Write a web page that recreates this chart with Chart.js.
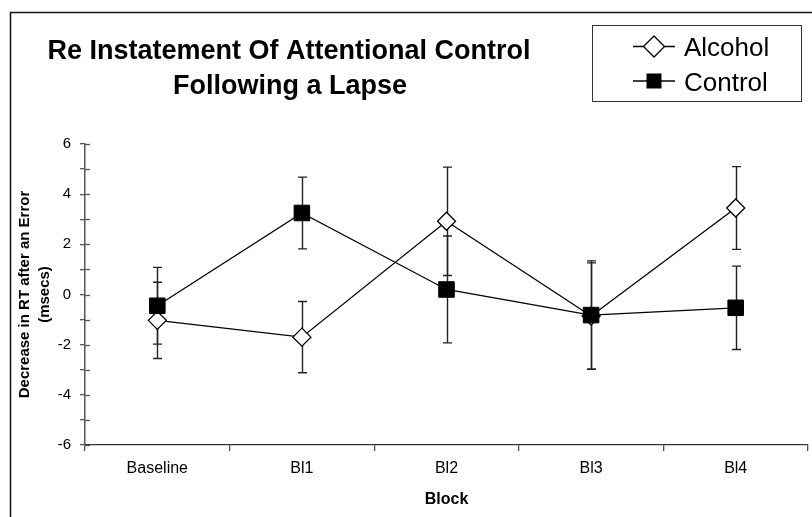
<!DOCTYPE html>
<html>
<head>
<meta charset="utf-8">
<script src="https://cdn.jsdelivr.net/npm/chart.js@4.4.1/dist/chart.umd.min.js"></script>
<style>
    body { margin: 0; background: #fff; }
    canvas { display: block; }
</style>
</head>
<body>
<canvas id="myChart" width="812" height="517"></canvas>
<script>
const FONT = "'Liberation Sans', Arial, sans-serif";

const blocks = ["Baseline", "Bl1", "Bl2", "Bl3", "Bl4"];
const alcohol = [-1.03, -1.7, 2.92, -0.86, 3.45];
const alcoholErr = [1.52, 1.42, 2.16, 2.12, 1.65];
const control = [-0.45, 3.25, 0.2, -0.82, -0.53];
const controlErr = [1.53, 1.43, 2.13, 2.16, 1.66];
const titleLines = ["Re Instatement Of Attentional Control", "Following a Lapse"];
const yTitle = ["Decrease in RT after an Error", "(msecs)"];

// frame + title + legend
const decorPlugin = {
    id: "decor",
    beforeDraw(chart) {
        let ctx = chart.ctx;
        ctx.save();
        ctx.fillStyle = "#fff";
        ctx.fillRect(0, 0, chart.width, chart.height);
        ctx.strokeStyle = "#111";
        ctx.lineWidth = 1.5;
        ctx.beginPath();
        ctx.moveTo(10.5, chart.height);
        ctx.lineTo(10.5, 12.5);
        ctx.lineTo(chart.width, 12.5);
        ctx.stroke();
        ctx.restore();
    },
    afterDraw(chart) {
        let ctx = chart.ctx;
        ctx.save();
        // title
        ctx.fillStyle = "#000";
        ctx.font = "bold 27px " + FONT;
        ctx.textAlign = "center";
        ctx.textBaseline = "alphabetic";
        ctx.fillText(titleLines[0], 289, 59);
        ctx.fillText(titleLines[1], 290, 94);

        // legend box
        ctx.strokeStyle = "#333";
        ctx.lineWidth = 1;
        ctx.strokeRect(592.5, 25.5, 209, 76);

        let rows = [
            { text: "Alcohol", y: 46.5, style: "diamond" },
            { text: "Control", y: 81, style: "square" }
        ];
        rows.forEach(function (r) {
            ctx.strokeStyle = "#000";
            ctx.lineWidth = 1.3;
            ctx.beginPath();
            ctx.moveTo(633, r.y);
            ctx.lineTo(675, r.y);
            ctx.stroke();
            ctx.beginPath();
            if (r.style === "diamond") {
                ctx.moveTo(654 - 10.5, r.y);
                ctx.lineTo(654, r.y - 10.5);
                ctx.lineTo(654 + 10.5, r.y);
                ctx.lineTo(654, r.y + 10.5);
                ctx.closePath();
                ctx.fillStyle = "#fff";
                ctx.fill();
                ctx.stroke();
            } else {
                ctx.rect(654 - 7.5, r.y - 7.5, 15, 15);
                ctx.fillStyle = "#000";
                ctx.fill();
            }
            ctx.fillStyle = "#000";
            ctx.font = "26px " + FONT;
            ctx.textAlign = "left";
            ctx.fillText(r.text, 684, r.y + 9.5);
        });

        // inner half of the y axis tick marks
        let y = chart.scales.y;
        let left = chart.chartArea.left;
        ctx.strokeStyle = "#555";
        ctx.lineWidth = 1.3;
        y.ticks.forEach(function (t) {
            let py = Math.round(y.getPixelForValue(t.value)) + 0.5;
            ctx.beginPath();
            ctx.moveTo(left, py);
            ctx.lineTo(left + 5, py);
            ctx.stroke();
        });
        ctx.restore();
    }
};

// error bars, drawn behind the markers
const errorBarPlugin = {
    id: "errorBars",
    beforeDatasetsDraw(chart) {
        let ctx = chart.ctx;
        let xs = chart.scales.x;
        let ys = chart.scales.y;
        let sets = [[alcohol, alcoholErr], [control, controlErr]];
        ctx.save();
        ctx.strokeStyle = "#222";
        ctx.lineWidth = 1.4;
        sets.forEach(function (s) {
            s[0].forEach(function (v, i) {
                let px = Math.round(xs.getPixelForValue(i)) + 0.5;
                let top = ys.getPixelForValue(v + s[1][i]);
                let bot = ys.getPixelForValue(v - s[1][i]);
                ctx.beginPath();
                ctx.moveTo(px, top);
                ctx.lineTo(px, bot);
                ctx.moveTo(px - 4.5, top);
                ctx.lineTo(px + 4.5, top);
                ctx.moveTo(px - 4.5, bot);
                ctx.lineTo(px + 4.5, bot);
                ctx.stroke();
            });
        });
        ctx.restore();
    }
};

let chartConfig = {
    type: "line",
    data: {
        labels: blocks,
        datasets: [
            {
                label: "Alcohol",
                data: alcohol,
                order: 1,
                borderColor: "#000",
                borderWidth: 1.3,
                pointStyle: "rectRot",
                pointRadius: 9,
                pointBorderWidth: 1.3,
                pointBorderColor: "#000",
                pointBackgroundColor: "#fff",
                tension: 0
            },
            {
                label: "Control",
                data: control,
                order: 0,
                borderColor: "#000",
                borderWidth: 1.3,
                pointStyle: "rect",
                pointRadius: 11,
                pointBorderWidth: 1,
                pointBorderColor: "#000",
                pointBackgroundColor: "#000",
                tension: 0
            }
        ]
    },
    options: {
        responsive: false,
        animation: false,
        layout: {
            autoPadding: false, // point radius would otherwise push the right edge in
            padding: { top: 144, right: 4, bottom: 0, left: 0 }
        },
        plugins: {
            legend: { display: false },
            title: { display: false },
            tooltip: { enabled: false }
        },
        scales: {
            x: {
                offset: true,
                grid: {
                    offset: true,
                    drawOnChartArea: false,
                    tickLength: 6,
                    color: "#555",
                    lineWidth: 1.3
                },
                border: { color: "#333", width: 1.3 },
                ticks: {
                    color: "#000",
                    font: { family: FONT, size: 16 },
                    padding: 8,
                    maxRotation: 0
                },
                title: {
                    display: true,
                    text: "Block",
                    color: "#000",
                    font: { family: FONT, size: 16, weight: "bold" },
                    padding: { top: 0, bottom: 8 }
                },
                afterFit: function (scale) {
                    scale.height = 72;
                    scale.paddingLeft = 0;
                    scale.paddingRight = 0;
                }
            },
            y: {
                min: -6,
                max: 6,
                grid: {
                    drawOnChartArea: false,
                    tickLength: 5,
                    color: "#555",
                    lineWidth: 1.3
                },
                border: { color: "#555", width: 1.5 },
                ticks: {
                    stepSize: 1,
                    color: "#000",
                    font: { family: FONT, size: 15 },
                    padding: 9,
                    callback: function (v) { return v % 2 === 0 ? v : ""; }
                },
                title: {
                    display: true,
                    text: yTitle,
                    color: "#000",
                    font: { family: FONT, size: 15, weight: "bold", lineHeight: "20px" },
                    padding: { top: 15, bottom: 0 }
                },
                afterFit: function (scale) {
                    scale.width = 85;
                    scale.paddingTop = 0;
                    scale.paddingBottom = 0;
                }
            }
        }
    },
    plugins: [decorPlugin, errorBarPlugin]
};

new Chart(document.getElementById("myChart"), chartConfig);
</script>
</body>
</html>
